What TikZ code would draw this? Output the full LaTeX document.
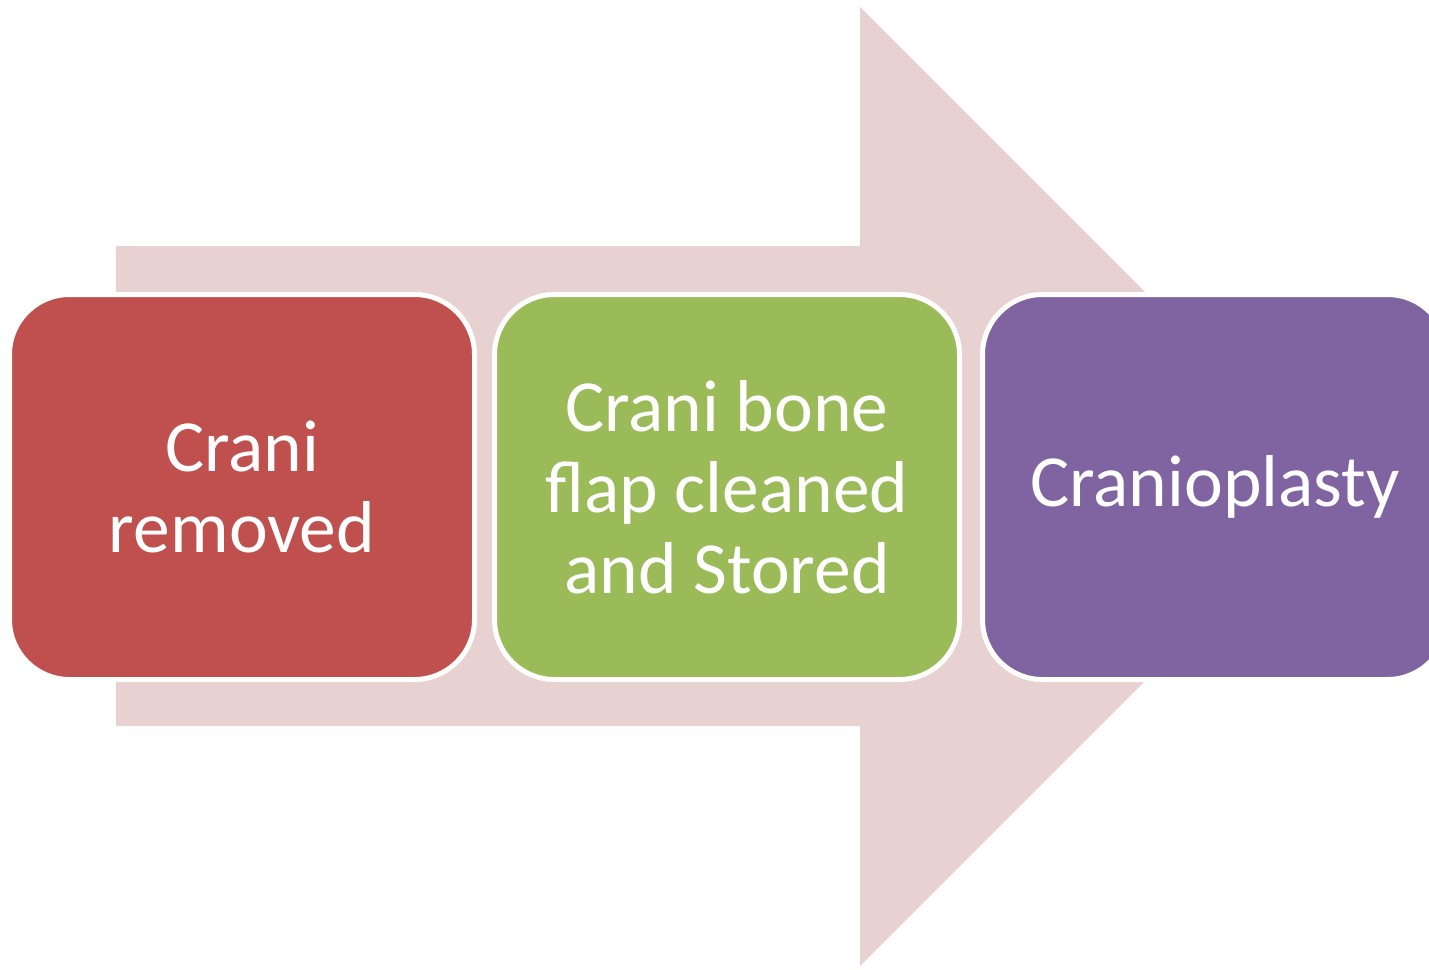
\documentclass[tikz,border=0pt]{standalone}
\usepackage{fontspec}
\setmainfont{Carlito}
\definecolor{arrowpink}{HTML}{E8D1D1}
\definecolor{boxred}{HTML}{C0504D}
\definecolor{boxgreen}{HTML}{9BBB59}
\definecolor{boxpurple}{HTML}{8064A2}
\tikzset{
  stepbox/.style={draw=white, line width=5pt, rounded corners=60pt,
    minimum width=465pt, minimum height=385pt, inner sep=0pt,
    text=white, align=center, font=\fontsize{73.5}{81}\selectfont},
}
\begin{document}
\begin{tikzpicture}[x=1pt,y=-1pt]
\useasboundingbox (0,0) rectangle (1429,969);
\clip (0,0) rectangle (1429,969);
\fill[arrowpink] (116,246) -- (860,246) -- (860,7) -- (1339.5,486.5) -- (860,966) -- (860,726) -- (116,726) -- cycle;
\node[stepbox, fill=boxred] (red) at (242,487) {Crani\\removed};
\node[stepbox, fill=boxgreen] (green) at (727,487) {Crani bone\\flap cleaned\\and Stored};
\node[stepbox, fill=boxpurple] (purple) at (1215,487) {Cranioplasty};
\end{tikzpicture}
\end{document}
